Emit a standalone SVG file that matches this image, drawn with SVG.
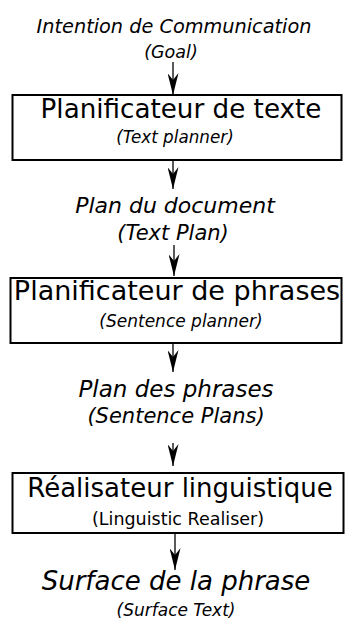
<svg xmlns="http://www.w3.org/2000/svg" width="345" height="619" viewBox="0 0 345 619">
<defs>
<style>
text{font-family:"DejaVu Sans",sans-serif;fill:#000;text-anchor:middle}
.it{font-style:italic}
.box{fill:#fff;stroke:#000;stroke-width:2}
.con{stroke:#000;stroke-width:1.3;fill:none}
</style>
<marker id="ah" viewBox="0 0 22 11" refX="22" refY="5.5" markerWidth="22" markerHeight="11" markerUnits="userSpaceOnUse" orient="auto">
<path d="M0,0 L22,5.5 L0,11 L7,5.5 Z" fill="#000"/>
</marker>
</defs>
<rect width="345" height="619" fill="#fff"/>
<g id="connectors">
<line class="con" x1="173" y1="62" x2="173" y2="95" marker-end="url(#ah)"/>
<line class="con" x1="173" y1="161" x2="173" y2="189" marker-end="url(#ah)"/>
<line class="con" x1="174" y1="245" x2="174" y2="276" marker-end="url(#ah)"/>
<line class="con" x1="173" y1="344" x2="173" y2="372" marker-end="url(#ah)"/>
<line class="con" x1="173" y1="443" x2="173" y2="466" marker-end="url(#ah)"/>
<line class="con" x1="175" y1="534" x2="175" y2="570" marker-end="url(#ah)"/>
</g>
<g id="goal">
<text class="it" x="174" y="33" font-size="19.3">Intention de Communication</text>
<text class="it" x="171" y="58" font-size="17.5">(Goal)</text>
</g>
<g id="text-planner">
<rect class="box" x="12.5" y="95" width="329" height="65"/>
<text x="181" y="118" font-size="26.2">Planificateur de texte</text>
<text class="it" x="175" y="143" font-size="16.8">(Text planner)</text>
</g>
<g id="text-plan">
<text class="it" x="175" y="213" font-size="22">Plan du document</text>
<text class="it" x="173" y="240" font-size="21">(Text Plan)</text>
</g>
<g id="sentence-planner">
<rect class="box" x="10.5" y="278" width="331" height="65"/>
<text x="177" y="300" font-size="27">Planificateur de phrases</text>
<text class="it" x="181" y="327" font-size="17">(Sentence planner)</text>
</g>
<g id="sentence-plans">
<text class="it" x="176" y="397" font-size="23">Plan des phrases</text>
<text class="it" x="176" y="423" font-size="21">(Sentence Plans)</text>
</g>
<g id="realiser">
<rect class="box" x="12.5" y="473" width="331" height="60"/>
<text x="180" y="497" font-size="26">Réalisateur linguistique</text>
<text x="178" y="525" font-size="17.5">(Linguistic Realiser)</text>
</g>
<g id="surface">
<text class="it" x="176" y="590" font-size="26">Surface de la phrase</text>
<text class="it" x="176" y="616" font-size="17">(Surface Text)</text>
</g>
</svg>
